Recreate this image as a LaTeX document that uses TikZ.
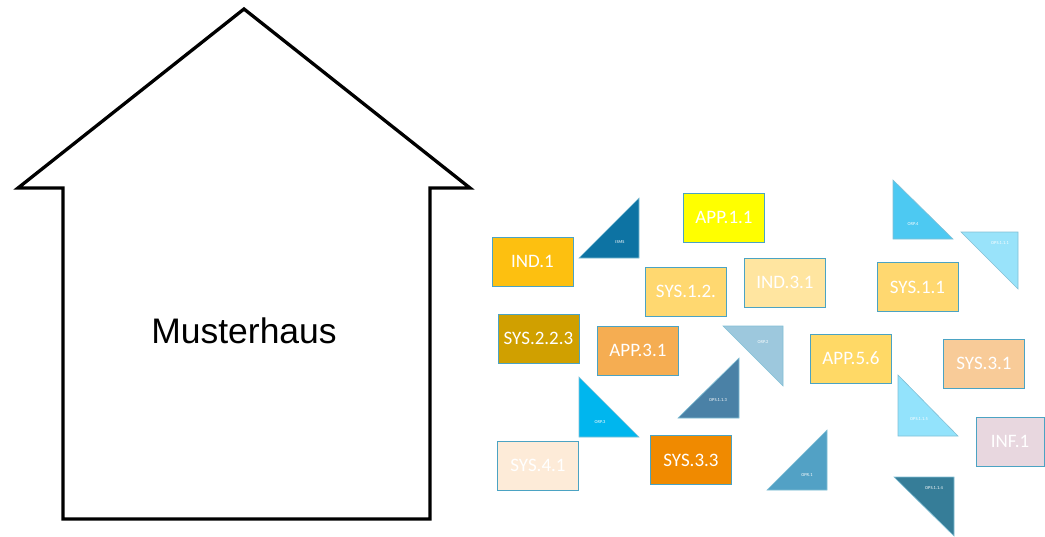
\documentclass[tikz,border=0pt]{standalone}
\usepackage{fontspec}
\setmainfont{Liberation Sans}
\newfontfamily\boxfont{Carlito}
\definecolor{bord}{HTML}{4BA3C3}
\definecolor{cIND}{HTML}{FDC010}
\definecolor{cISMS}{HTML}{0D73A3}
\definecolor{cAPPa}{HTML}{FFFF00}
\definecolor{cSYSb}{HTML}{FFD870}
\definecolor{cINDc}{HTML}{FFE5A0}
\definecolor{cORPd}{HTML}{4DC9F2}
\definecolor{cOPSa}{HTML}{99E3FA}
\definecolor{cSYSa}{HTML}{FFD870}
\definecolor{cSYSbb}{HTML}{D0A000}
\definecolor{cAPPc}{HTML}{F5AD52}
\definecolor{cORPb}{HTML}{9DC8DD}
\definecolor{cOPSc}{HTML}{4A81A6}
\definecolor{cAPPe}{HTML}{FFD966}
\definecolor{cSYSc}{HTML}{F8CB98}
\definecolor{cORPc}{HTML}{00B6EE}
\definecolor{cOPSe}{HTML}{93E3FC}
\definecolor{cINF}{HTML}{E8D7DF}
\definecolor{cSYSd}{HTML}{FDEBD8}
\definecolor{cSYScc}{HTML}{F08A00}
\definecolor{cOPR}{HTML}{52A1C5}
\definecolor{cOPSd}{HTML}{367D98}
\begin{document}
\begin{tikzpicture}[x=1pt,y=-1pt,
  modbox/.style={draw=bord, line width=1pt, minimum width=81pt, minimum height=49pt,
    inner sep=0pt, text=white, font=\boxfont\fontsize{19}{21}\selectfont},
  tri/.style={draw=bord!70, line width=0.6pt},
  trilabel/.style={text=white, font=\boxfont\fontsize{4.5}{5}\selectfont, inner sep=0pt}]
\useasboundingbox (0,0) rectangle (1045,536);
% house
\draw[line width=3.3pt] (244,9) -- (470,188) -- (430,188) -- (430,519) -- (63,519) -- (63,188) -- (18,188) -- cycle;
\node[font=\fontsize{35.5}{38}\selectfont] (haus) at (244,331) {Musterhaus};
% boxes
\node[modbox, fill=cIND] (ind1) at (532.5,261.5) {IND.1};
\node[modbox, fill=cAPPa] (app11) at (724,217.5) {APP.1.1};
\node[modbox, fill=cSYSb] (sys12) at (686,291.5) {SYS.1.2.};
\node[modbox, fill=cINDc] (ind31) at (785,282.5) {IND.3.1};
\node[modbox, fill=cSYSa] (sys11) at (917.5,287) {SYS.1.1};
\node[modbox, fill=cSYSbb] (sys223) at (538.5,338.5) {SYS.2.2.3};
\node[modbox, fill=cAPPc] (app31) at (638,350.5) {APP.3.1};
\node[modbox, fill=cAPPe] (app56) at (851,358.5) {APP.5.6};
\node[modbox, fill=cSYSc] (sys31) at (984,363.5) {SYS.3.1};
\node[modbox, fill=cINF, minimum width=68pt] (inf1) at (1010,441.5) {INF.1};
\node[modbox, fill=cSYSd] (sys41) at (538,465.5) {SYS.4.1};
\node[modbox, fill=cSYScc] (sys33) at (691,460) {SYS.3.3};
% triangles
\filldraw[tri, fill=cISMS] (579,258) -- (639,258) -- (639,198) -- cycle;
\node[trilabel] (isms) at (620,242) {ISMS};
\filldraw[tri, fill=cORPd] (893,180) -- (893,239) -- (953,239) -- cycle;
\node[trilabel] (orp4) at (913,224) {ORP.4};
\filldraw[tri, fill=cOPSa] (961,232) -- (1018,232) -- (1018,289) -- cycle;
\node[trilabel] (ops111) at (1000,243) {OPS.1.1.1};
\filldraw[tri, fill=cORPc] (579,377) -- (579,437) -- (639,437) -- cycle;
\node[trilabel] (orp3) at (600,422) {ORP.3};
\filldraw[tri, fill=cORPb] (723,326) -- (783,326) -- (783,386) -- cycle;
\node[trilabel] (orp2) at (763,342) {ORP.2};
\filldraw[tri, fill=cOPSc] (678,418) -- (739,418) -- (739,358) -- cycle;
\node[trilabel] (ops113) at (718,400) {OPS.1.1.3};
\filldraw[tri, fill=cOPSe] (898,375) -- (898,436) -- (958,436) -- cycle;
\node[trilabel] (ops115) at (919,419) {OPS.1.1.5};
\filldraw[tri, fill=cOPR] (767,490) -- (827,490) -- (827,430) -- cycle;
\node[trilabel] (opr1) at (807,475) {OPR.1};
\filldraw[tri, fill=cOPSd] (894,477) -- (954,477) -- (954,536) -- cycle;
\node[trilabel] (ops114) at (934,488) {OPS.1.1.4};
\end{tikzpicture}
\end{document}
